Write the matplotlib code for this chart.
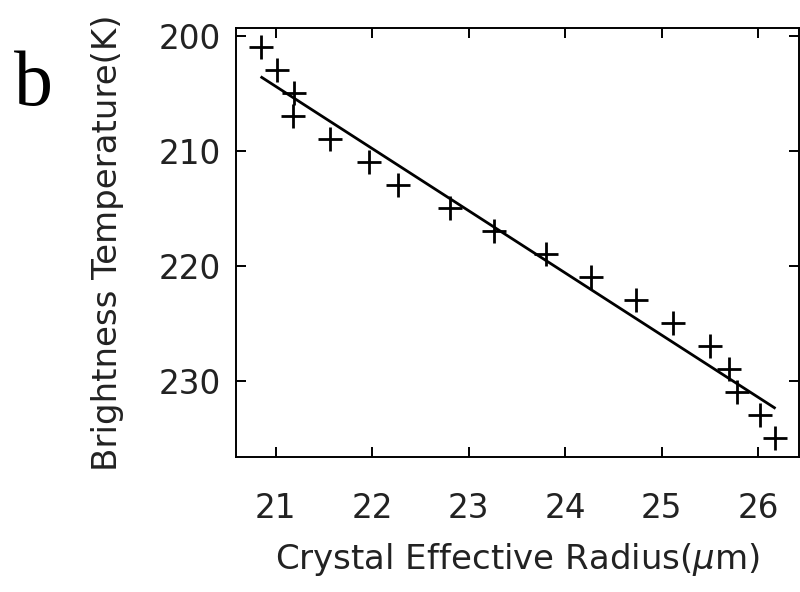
import matplotlib
matplotlib.use("Agg")
import matplotlib.pyplot as plt
import numpy as np

# Data
radius = [20.85, 21.01, 21.19, 21.18, 21.56, 21.97, 22.27, 22.81, 23.26,
          23.80, 24.27, 24.73, 25.12, 25.50, 25.70, 25.78, 26.02, 26.18]
temperature = [201, 203, 205, 207, 209, 211, 213, 215, 217,
               219, 221, 223, 225, 227, 229, 231, 233, 235]
fit_x = [20.855, 26.17]
fit_y = [203.62, 232.35]
xticks = [21, 22, 23, 24, 25, 26]
yticks = [200, 210, 220, 230]

plt.rcParams['font.family'] = ['DejaVu Sans']
plt.rcParams['mathtext.fontset'] = 'dejavusans'

fig = plt.figure(figsize=(8, 5.92), dpi=100)
ax = fig.add_axes([236/800, 1-457.3/592, (799-236)/800, (457.3-27.7)/592])

ax.plot(radius, temperature, linestyle='none', marker='+', color='black',
        markersize=17, markeredgewidth=2.0)
ax.plot(fit_x, fit_y, color='black', linewidth=2.0)

ax.set_xlim(20.588, 26.425)
ax.set_ylim(236.66, 199.3)
ax.set_xticks(xticks)
ax.set_yticks(yticks)

txtcol = '#222222'
ax.tick_params(direction='in', length=7, width=1.4, top=True, right=True,
               labelsize=23.5, labelcolor=txtcol)
ax.tick_params(axis='x', pad=25)
ax.tick_params(axis='y', pad=11)
for s in ax.spines.values():
    s.set_linewidth(1.4)

ax.set_xlabel('Crystal Effective Radius($\\mu$m)', fontsize=24.5, color=txtcol, va='top')
ax.xaxis.set_label_coords(0.5, (457.3-541)/429.6)
ax.set_ylabel('Brightness Temperature(K)', fontsize=24.5, color=txtcol)
ax.yaxis.set_label_coords((124-236)/563, 0.5)

fig.text(14/800, 1-105/592, 'b', fontsize=56, family='Liberation Serif',
         color='black', va='baseline', ha='left')

fig.savefig('out.png', dpi=100)
